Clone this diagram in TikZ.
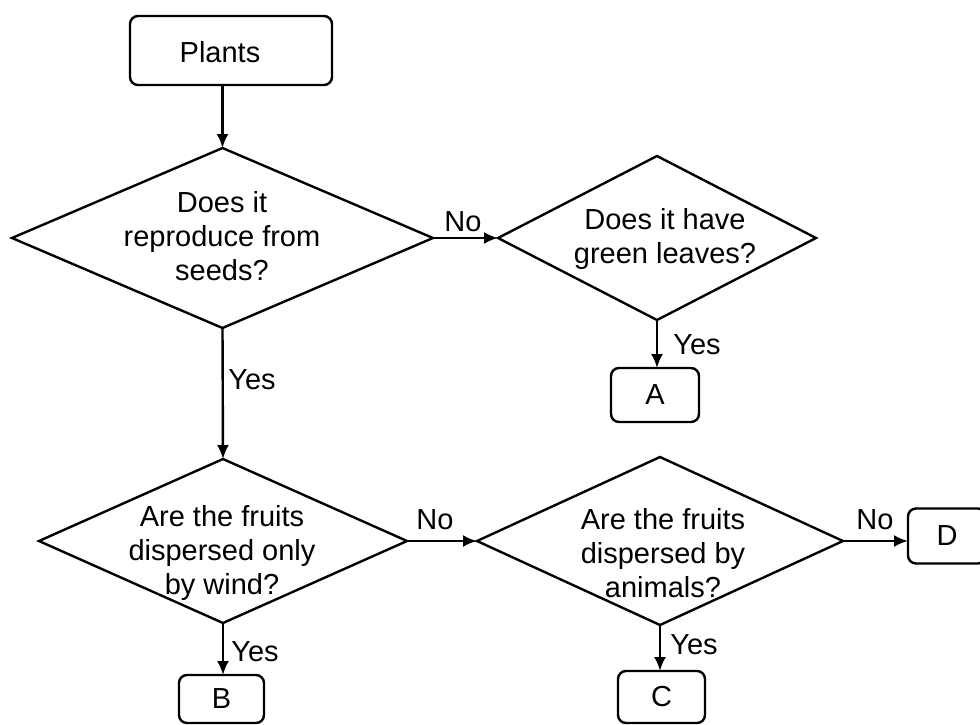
\documentclass[tikz,border=0pt]{standalone}
\usepackage{fontspec}
\setmainfont{Liberation Sans}
\usetikzlibrary{shapes.geometric,arrows.meta}
\begin{document}
\begin{tikzpicture}[x=1pt,y=-1pt,
  every node/.style={font=\fontsize{29}{34}\selectfont},
  dia/.style={draw, diamond, line width=2.4pt, inner sep=0pt, outer sep=0pt},
  qtext/.style={align=center, inner sep=0pt},
  box/.style={draw, rounded corners=8pt, line width=2.4pt, inner sep=0pt, outer sep=0pt},
  lbl/.style={inner sep=0pt},
  arr/.style={line width=2.4pt, -{Latex[length=14pt,width=12pt]}}]
\useasboundingbox (0,0) rectangle (980,724);
\clip (0,0) rectangle (980,724);
% boxes and diamonds
\node[box, minimum width=202pt, minimum height=69pt] (plants) at (231,50.5) {};
\node[lbl] (plantst) at (220,52) {Plants};
\node[dia, minimum width=421pt, minimum height=180pt] (d1) at (222.5,238) {};
\node[qtext] (t1) at (222,236) {Does it\\reproduce from\\seeds?};
\node[dia, minimum width=318pt, minimum height=164pt] (d2) at (657,238) {};
\node[qtext] (t2) at (665,239) {Does it have\\green leaves?};
\node[dia, minimum width=368pt, minimum height=164pt] (d3) at (223,541) {};
\node[qtext] (t3) at (222,553) {Are the fruits\\dispersed only\\by wind?};
\node[dia, minimum width=366pt, minimum height=168pt] (d4) at (660,541) {};
\node[qtext] (t4) at (663,553) {Are the fruits\\dispersed by\\animals?};
\node[box, minimum width=88pt, minimum height=54pt] (a) at (655,395) {A};
\node[box, minimum width=85pt, minimum height=48pt] (b) at (221.5,699) {B};
\node[box, minimum width=87pt, minimum height=52pt] (c) at (661.5,697) {C};
\node[box, minimum width=78pt, minimum height=55pt] (dd) at (947,536) {D};
% connectors
\draw[arr] (d1.north |- plants.south) -- (d1.north);
\draw[arr] (d1.east) -- (d1.east -| d2.west);
\draw[arr] (d2.south) -- (d2.south |- a.north);
\draw[arr] (d1.south) -- (d3.north);
\draw[arr] (d3.east) -- (d4.west);
\draw[arr] (d3.south) -- (d3.south |- b.north);
\draw[arr] (d4.east) -- (d4.east -| dd.west);
\draw[arr] (d4.south) -- (d4.south |- c.north);
% labels
\node[lbl] (no1) at (463,222) {No};
\node[lbl] (yes1) at (252,380) {Yes};
\node[lbl] (yes2) at (697,345) {Yes};
\node[lbl] (no2) at (435,520) {No};
\node[lbl] (yes3) at (255,652) {Yes};
\node[lbl] (no3) at (875,520) {No};
\node[lbl] (yes4) at (694,645) {Yes};
\end{tikzpicture}
\end{document}
